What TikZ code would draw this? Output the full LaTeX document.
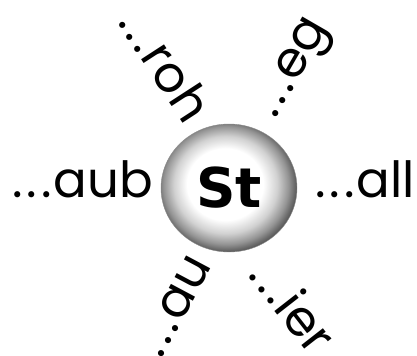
\documentclass[tikz,border=0pt]{standalone}
\usepackage{fontspec}
\setmainfont{Poppins}
\newfontfamily\stfont{DejaVu Sans}
\usetikzlibrary{shapes.geometric}
\pgfdeclareradialshading{stball}{\pgfpoint{-2bp}{2bp}}{%
  color(0bp)=(white); color(14bp)=(white); color(19bp)=(black!18);
  color(23bp)=(black!42); color(25bp)=(black!58); color(27bp)=(black!72);
  color(50bp)=(black!72)}
\newcommand{\wordsize}{\fontsize{50}{50}\selectfont}
\newcommand{\lead}{.\kern4bp.\kern4bp.\kern2bp}

\begin{document}
\begin{tikzpicture}[x=1bp,y=-1bp,
  word/.style={font=\wordsize, inner sep=0pt},
  ballnode/.style={shape=ellipse, minimum width=136bp, minimum height=128bp,
    inner sep=0pt, shading=stball, draw=black!45, line width=0.4pt,
    font=\stfont\bfseries\fontsize{55}{55}\selectfont}]

    \useasboundingbox (0,0) rectangle (417,356);

    \node[ballnode] (st) at (229,188) {St};

    \node[word, anchor=base west] (aub) at (12,197) {\lead aub};
    \node[word, anchor=base west] (all) at (315,197) {\lead all};
    \node[word, rotate=-57] (roh) at (166,64) {\lead roh};
    \node[word, rotate=60] (eg) at (296,70) {\lead eg};
    \node[word, rotate=62] (au) at (175,306) {\lead au};
    \node[word, rotate=-52] (ier) at (294,305) {\lead ier};

\end{tikzpicture}
\end{document}
